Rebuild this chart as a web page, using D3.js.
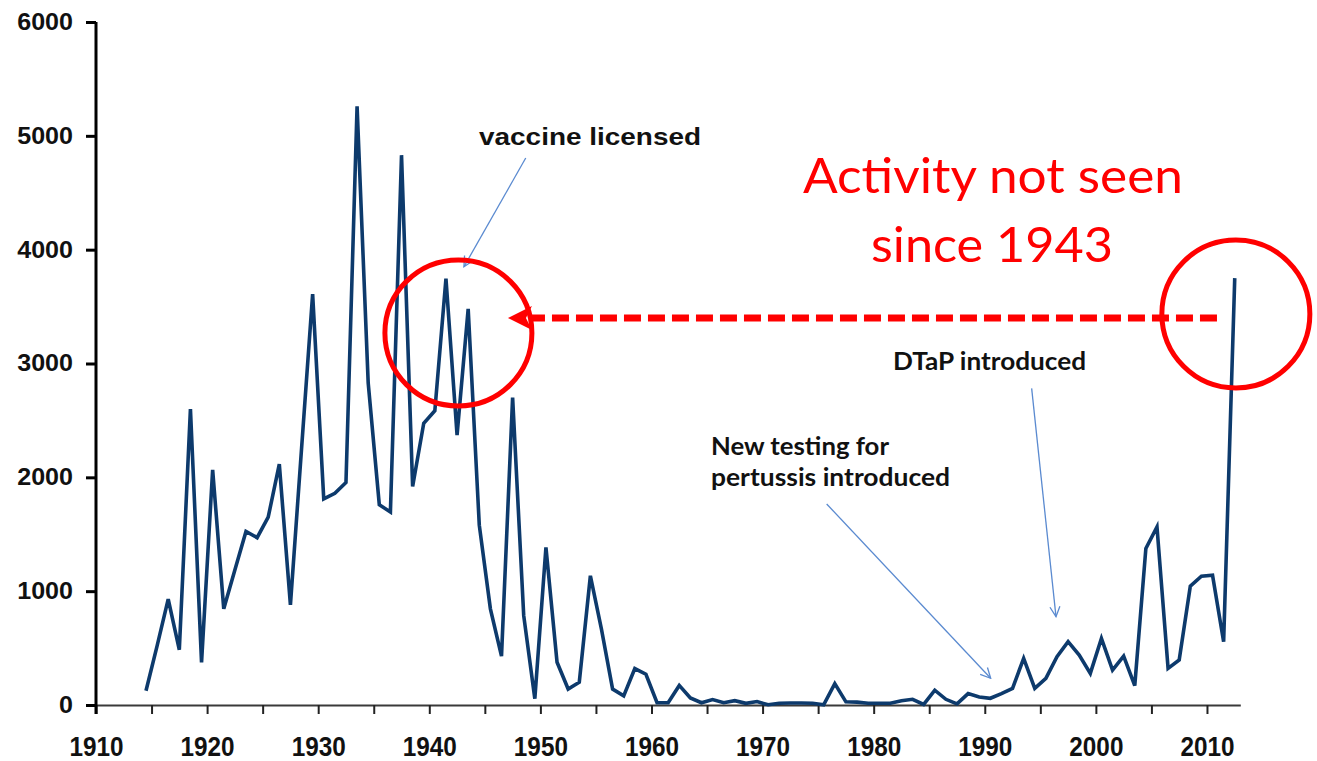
<!DOCTYPE html>
<html><head><meta charset="utf-8">
<script src="https://cdn.jsdelivr.net/npm/d3@7"></script>
<style>html,body{margin:0;padding:0;background:#fff;} svg{display:block;}</style>
</head><body>
<svg id="chart" width="1317" height="761"></svg>
<script>
// ---------- data ----------
const years = d3.range(1914, 2013);
const cases = [
  125, 520, 930, 485, 2600, 375, 2065, 845, 1185, 1525,   // 1914-1923
  1470, 1650, 2115, 880, 2250, 3610, 1810, 1860, 1955, 5260, // 1924-1933
  2830, 1760, 1695, 4830, 1920, 2475, 2585, 3745, 2370, 3480, // 1934-1943
  1580, 845, 430, 2700, 785, 55, 1385, 375, 140, 200,        // 1944-1953
  1135, 665, 140, 80, 320, 270, 20, 20, 172, 62,             // 1954-1963
  20, 48, 20, 38, 15, 30, 2, 15, 18, 18,                     // 1964-1973
  15, 2, 188, 28, 25, 15, 15, 15, 38, 50,                    // 1974-1983
  5, 130, 50, 10, 100, 70, 59, 100, 146, 410,                // 1984-1993
  146, 234, 424, 556, 439, 278, 585, 307, 430, 170,          // 1994-2003
  1375, 1565, 322, 395, 1044, 1132, 1140, 556, 3750          // 2004-2012
];
const yTickValues = [0, 1000, 2000, 3000, 4000, 5000, 6000];
const xTickValues = d3.range(1910, 2011, 5);
const xLabelValues = [1910, 1920, 1930, 1940, 1950, 1960, 1970, 1980, 1990, 2000, 2010];

const noteTexts = ["vaccine licensed", "DTaP introduced", "New testing for", "pertussis introduced"];
const headline = ["Activity not seen", "since 1943"];

// ---------- layout ----------
const svg = d3.select("#chart");
const x = d3.scaleLinear().domain([1910, 2013]).range([96, 1240.3]);
const y = d3.scaleLinear().domain([0, 6000]).range([705, 22]);
const px = yr => x(yr + 0.5);   // yearly values sit mid-year

function fitWidth(sel, factor) {
  sel.each(function () {
    const w = this.getComputedTextLength();
    d3.select(this).attr("textLength", w * factor).attr("lengthAdjust", "spacingAndGlyphs");
  });
}
function setLen(sel, len) {
  sel.attr("textLength", len).attr("lengthAdjust", "spacingAndGlyphs");
}

// x axis
const gx = svg.append("g").attr("transform", `translate(0,${y(0)})`)
  .call(d3.axisBottom(x).tickValues(xTickValues).tickSize(9).tickSizeOuter(0)
        .tickFormat(d => xLabelValues.includes(d) ? String(d) : ""));
gx.select(".domain").attr("stroke", "#3a3a3a").attr("stroke-width", 2.2);
gx.selectAll(".tick line").attr("stroke", "#222").attr("stroke-width", 2);
gx.selectAll(".tick text")
  .attr("fill", "#111").attr("y", 0).attr("dy", 0)
  .attr("transform", "translate(0,51)")
  .style("font-family", "'Liberation Sans', Arial, sans-serif")
  .style("font-weight", "bold").style("font-size", "27px");
fitWidth(gx.selectAll(".tick text").filter(d => xLabelValues.includes(d)), 0.9);

// y axis
const gy = svg.append("g").attr("transform", `translate(${x(1910)},0)`)
  .call(d3.axisLeft(y).tickValues(yTickValues).tickSize(10).tickPadding(13).tickSizeOuter(0)
        .tickFormat(d3.format("d")));
gy.select(".domain").attr("stroke", "#000").attr("stroke-width", 3);
gy.selectAll(".tick line").attr("stroke", "#000").attr("stroke-width", 3);
gy.selectAll(".tick text")
  .attr("fill", "#111")
  .style("font-family", "'Liberation Sans', Arial, sans-serif")
  .style("font-weight", "bold").style("font-size", "23px");
fitWidth(gy.selectAll(".tick text"), 1.09);
gy.select(".domain").attr("d", `M0,${y(6000)}V${y(0) + 9}`);

// data line
const series = years.map((yr, i) => ({ yr, v: cases[i] }));
svg.append("path")
  .datum(series)
  .attr("fill", "none")
  .attr("stroke", "#0d3a6c")
  .attr("stroke-width", 3.6)
  .attr("stroke-linejoin", "miter")
  .attr("d", d3.line().x(d => px(d.yr)).y(d => y(d.v)));

// ---------- annotations (positions in data space: [year, cases]) ----------
const defs = svg.append("defs");
defs.append("marker").attr("id", "openArrow")
  .attr("viewBox", "0 0 12 12").attr("refX", 11).attr("refY", 6)
  .attr("markerWidth", 12).attr("markerHeight", 12).attr("markerUnits", "userSpaceOnUse")
  .attr("orient", "auto")
  .append("path").attr("d", "M1,1 L11,6 L1,11").attr("fill", "none")
  .attr("stroke", "#5a8ad0").attr("stroke-width", 1.3);

const annotArrows = [
  { a: [1948.68, 4805], b: [1943.12, 3850] },   // vaccine licensed
  { a: [1975.77, 1766], b: [1990.53, 235] },    // new testing
  { a: [1994.22, 2782], b: [1996.41, 776] }     // DTaP
];
annotArrows.forEach(ar => {
  svg.append("line")
    .attr("x1", x(ar.a[0])).attr("y1", y(ar.a[1]))
    .attr("x2", x(ar.b[0])).attr("y2", y(ar.b[1]))
    .attr("stroke", "#5a8ad0").attr("stroke-width", 1.3)
    .attr("marker-end", "url(#openArrow)");
});

// red circles (centre in data space, radius in px)
const circles = [
  { yr: 1942.62, v: 3268, rx: 73.5, ry: 73 },
  { yr: 2012.6, v: 3435, rx: 74, ry: 74 }
];
circles.forEach(c => {
  svg.append("ellipse")
    .attr("cx", x(c.yr)).attr("cy", y(c.v))
    .attr("rx", c.rx).attr("ry", c.ry)
    .attr("fill", "none").attr("stroke", "#ff0000").attr("stroke-width", 5);
});

// dashed red arrow
const dashFrom = [2010.9, 3400], dashTo = [1949.2, 3400], dashTip = [1947.08, 3400];
svg.append("line")
  .attr("x1", x(dashFrom[0])).attr("y1", y(dashFrom[1]))
  .attr("x2", x(dashTo[0])).attr("y2", y(dashTo[1]))
  .attr("stroke", "#ff0000").attr("stroke-width", 7)
  .attr("stroke-dasharray", "17,7");
const tipX = x(dashTip[0]), tipY = y(dashTip[1]);
svg.append("path")
  .attr("d", `M${tipX},${tipY} L${tipX + 24},${tipY - 12} L${tipX + 18},${tipY} L${tipX + 24},${tipY + 12} Z`)
  .attr("fill", "#ff0000");

// texts
const boldSans = "'Liberation Sans', Arial, sans-serif";
const calibriLike = "Lato, 'Open Sans', sans-serif";

setLen(svg.append("text").attr("x", 479).attr("y", 145)
  .style("font-family", boldSans).style("font-weight", "bold").style("font-size", "24px")
  .attr("fill", "#111").text(noteTexts[0]), 222);

setLen(svg.append("text").attr("x", 893).attr("y", 370)
  .style("font-family", calibriLike).style("font-weight", "bold").style("font-size", "24px")
  .attr("fill", "#111").text(noteTexts[1]), 193);

setLen(svg.append("text").attr("x", 711).attr("y", 455)
  .style("font-family", calibriLike).style("font-weight", "bold").style("font-size", "24px")
  .attr("fill", "#111").text(noteTexts[2]), 178);
setLen(svg.append("text").attr("x", 711).attr("y", 486)
  .style("font-family", calibriLike).style("font-weight", "bold").style("font-size", "24px")
  .attr("fill", "#111").text(noteTexts[3]), 239);

setLen(svg.append("text").attr("x", 803).attr("y", 193)
  .style("font-family", calibriLike).style("font-size", "49px")
  .attr("fill", "#ff0000").text(headline[0]), 380);
setLen(svg.append("text").attr("x", 871).attr("y", 262)
  .style("font-family", calibriLike).style("font-size", "49px")
  .attr("fill", "#ff0000").text(headline[1]), 242);
</script>
</body></html>
